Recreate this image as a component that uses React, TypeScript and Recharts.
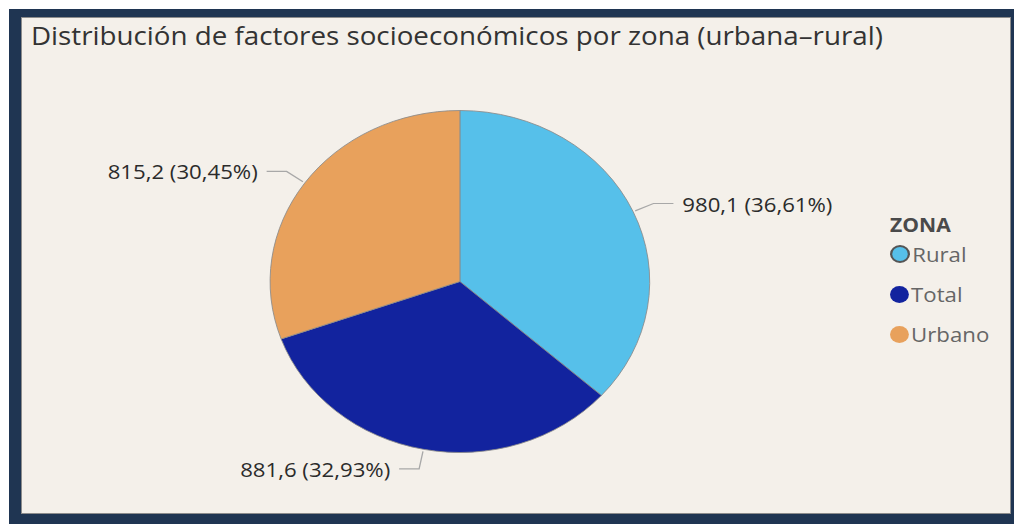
import { PieChart, Pie, Cell, Legend } from 'recharts';

const zonas = ['Rural', 'Total', 'Urbano'];
const valores = [980.1, 881.6, 815.2];
const etiquetas = ['980,1 (36,61%)', '881,6 (32,93%)', '815,2 (30,45%)'];
const colores = ['#56c0ea', '#12239e', '#e8a15c'];

const data = zonas.map((zona, i) => ({ zona, valor: valores[i], etiqueta: etiquetas[i] }));

// the screenshot is stretched horizontally, so the panel content is drawn narrower and scaled in x
const SX = 1.11;
const W = 892;
const H = 497;
const RAD = Math.PI / 180;

const renderLabel = (props: any) => {
  const { cx, cy, midAngle, outerRadius, index } = props;
  const cos = Math.cos(-midAngle * RAD);
  const sin = Math.sin(-midAngle * RAD);
  const x0 = cx + (outerRadius + 2) * cos;
  const y0 = cy + (outerRadius + 2) * sin;
  const x1 = cx + (outerRadius + 20) * cos;
  const y1 = cy + (outerRadius + 20) * sin;
  const right = cos >= 0;
  const x2 = x1 + (right ? 18 : -18);
  return (
    <g>
      <polyline
        points={`${x0},${y0} ${x1},${y1} ${x2},${y1}`}
        fill="none"
        stroke="#a8a8a8"
        strokeWidth={1.2}
      />
      <text
        x={x2 + (right ? 8 : -8)}
        y={y1}
        textAnchor={right ? 'start' : 'end'}
        dominantBaseline="central"
        fontSize={20}
        fontFamily="'Open Sans', sans-serif"
        fill="#2b2b2b"
      >
        {data[index].etiqueta}
      </text>
    </g>
  );
};

const renderLegend = () => (
  <div style={{ fontFamily: "'Open Sans', sans-serif" }}>
    <div style={{ fontSize: 19, fontWeight: 700, color: '#4a4a4a', lineHeight: '24px', marginBottom: 5 }}>ZONA</div>
    {zonas.map((z, i) => (
      <div key={z} style={{ display: 'flex', alignItems: 'center', height: 40, marginTop: i === 0 ? -8 : 0 }}>
        <span
          style={{
            width: i === 0 ? 14 : 17,
            height: i === 0 ? 14 : 17,
            borderRadius: '50%',
            background: colores[i],
            border: i === 0 ? '2px solid #555' : 'none',
            marginRight: 2,
            display: 'inline-block',
            flexShrink: 0,
          }}
        />
        <span style={{ fontSize: 20, color: '#666' }}>{z}</span>
      </div>
    ))}
  </div>
);

export default function App() {
  return (
    <div style={{ position: 'absolute', left: 0, top: 0, width: 1014, height: 524, background: '#ffffff', overflow: 'hidden' }}>
      <div style={{ position: 'absolute', left: 9, top: 9, width: 1005, height: 515, background: '#1f3552' }} />
      <div
        style={{
          position: 'absolute',
          left: 21,
          top: 17,
          width: 990,
          height: 497,
          boxSizing: 'border-box',
          background: '#f4f0ea',
          border: '1px solid #8c8c8c',
          overflow: 'hidden',
        }}
      >
        <div style={{ position: 'relative', width: W, height: H, transform: `scaleX(${SX})`, transformOrigin: '0 0' }}>
          <div
            style={{
              position: 'absolute',
              left: 8,
              top: -1,
              fontFamily: "'Open Sans', sans-serif",
              fontSize: 25,
              color: '#333',
              whiteSpace: 'nowrap',
              lineHeight: '36px',
            }}
          >
            Distribución de factores socioeconómicos por zona (urbana–rural)
          </div>
          <PieChart width={W} height={H} margin={{ top: 0, right: 0, bottom: 0, left: 0 }}>
            <Pie
              data={data}
              dataKey="valor"
              nameKey="zona"
              cx={394.5}
              cy={263.5}
              outerRadius={171}
              startAngle={90}
              endAngle={-270}
              stroke="#8a8a8a"
              strokeWidth={0.8}
              label={renderLabel}
              labelLine={false}
              isAnimationActive={false}
            >
              {data.map((d, i) => (
                <Cell key={d.zona} fill={colores[i]} />
              ))}
            </Pie>
            <Legend
              content={renderLegend}
              layout="vertical"
              wrapperStyle={{ position: 'absolute', left: 782, top: 195, width: 110 }}
            />
          </PieChart>
        </div>
      </div>
    </div>
  );
}
